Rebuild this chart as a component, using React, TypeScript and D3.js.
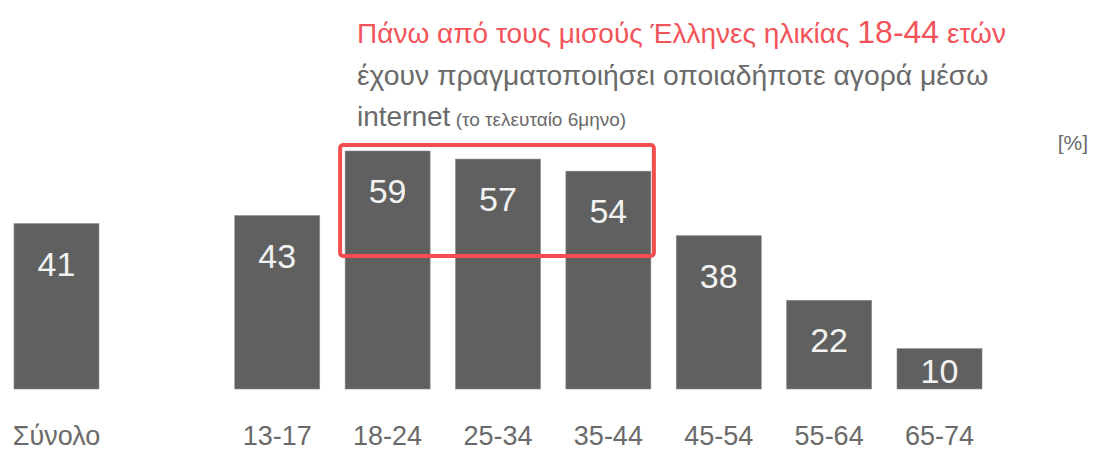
import React from "react";
import * as d3 from "d3";

const categories = ["Σύνολο", "", "13-17", "18-24", "25-34", "35-44", "45-54", "55-64", "65-74"];
const values: (number | null)[] = [41, null, 43, 59, 57, 54, 38, 22, 10];
const highlighted = ["18-24", "25-34", "35-44"];
const titleLine1a = "Πάνω από τους μισούς Έλληνες ηλικίας ";
const titleLine1b = "18-44";
const titleLine1c = " ετών";
const titleLine2 = "έχουν πραγματοποιήσει οποιαδήποτε αγορά μέσω";
const titleLine3a = "internet";
const titleLine3b = " (το τελευταίο 6μηνο)";
const unitLabel = "[%]";

const W = 1093;
const H = 452;
const FONT = "'Liberation Sans Narrow', 'Liberation Sans', 'Noto Sans', sans-serif";

export default function App() {
  const x = d3.scaleBand<string>().domain(categories).range([14, 982]).paddingInner(0.23).paddingOuter(0);
  const y = d3.scaleLinear().domain([0, 59]).range([389, 151]);
  const bw = x.bandwidth();

  const hx0 = (x(highlighted[0]) as number) - 5;
  const hx1 = (x(highlighted[highlighted.length - 1]) as number) + bw + 3;
  const hy0 = y(59) - 6;
  const hy1 = y(33);

  return (
    <svg width={W} height={H} style={{ position: "absolute", left: 0, top: 0 }} fontFamily={FONT}>
      <rect width={W} height={H} fill="#ffffff" />
      {categories.map((c, i) => {
        const v = values[i];
        if (v == null) return null;
        const x0 = x(c) as number;
        const top = y(v);
        const bottom = y(0);
        const ly = Math.min(top + 43, (top + bottom) / 2 + 5);
        return (
          <g key={c}>
            <rect x={x0} y={top} width={bw} height={bottom - top} fill="#606060" stroke="#8a8a8a" strokeWidth={0.6} />
            <text x={x0 + bw / 2} y={ly} textAnchor="middle" dominantBaseline="middle" fill="#f2f2f2" fontSize={34}>
              {v}
            </text>
            <text x={x0 + bw / 2} y={438} textAnchor="middle" dominantBaseline="middle" fill="#6a6a6a" fontSize={27}>
              {c}
            </text>
          </g>
        );
      })}
      <rect x={hx0} y={hy0} width={hx1 - hx0} height={hy1 - hy0} fill="none" stroke="#f24d4f" strokeWidth={4} rx={3} />
      <text x={357} y={43} fill="#f2545a" fontSize={28}>
        {titleLine1a}
        <tspan fontSize={32}>{titleLine1b}</tspan>
        {titleLine1c}
      </text>
      <text x={357} y={85} fill="#6a6a6a" fontSize={28.3}>
        {titleLine2}
      </text>
      <text x={357} y={126} fill="#6a6a6a" fontSize={28}>
        {titleLine3a}
        <tspan fontSize={19}>{titleLine3b}</tspan>
      </text>
      <text x={1088} y={150} textAnchor="end" fill="#6a6a6a" fontSize={21}>
        {unitLabel}
      </text>
    </svg>
  );
}
